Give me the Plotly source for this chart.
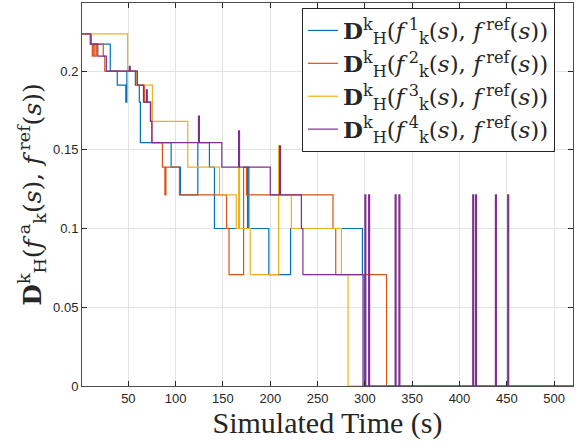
import plotly.graph_objects as go

# ---- data (time in s, Hausdorff distance) ----
time_s1 = [1, 10.8, 30.9, 38.3, 47.3, 48.4, 57.4, 61.6, 62.7, 95.2, 105, 123.4, 135.7, 141, 176, 177.4, 198.5, 221.5, 297.4, 299.3, 520]
dist_s1 = [0.2236, 0.2171, 0.2000, 0.1910, 0.1803, 0.2000, 0.1910, 0.1803, 0.1545, 0.1390, 0.1213, 0.1545, 0.1390, 0.1000, 0.1390, 0.1000, 0.0707, 0.1000, 0.0707, 0.0, 0.0]

time_s2 = [1, 10.8, 11.9, 12.9, 14.5, 16.1, 23.5, 25.1, 59, 66.9, 73.8, 74.9, 86, 88.6, 89.7, 104, 153.8, 156.4, 171.8, 175, 266.3, 269.2, 322.9, 520]
dist_s2 = [0.2236, 0.2171, 0.2095, 0.2171, 0.2095, 0.2171, 0.2095, 0.2000, 0.1910, 0.1803, 0.1680, 0.1545, 0.1390, 0.1213, 0.1390, 0.1213, 0.1000, 0.0707, 0.1390, 0.1213, 0.1000, 0.0707, 0.0, 0.0]

time_s3 = [1, 49.2, 59, 75.4, 112.8, 146.3, 164, 166.5, 167.5, 178.8, 208.8, 209.9, 222.3, 275.2, 282.2, 520]
dist_s3 = [0.2236, 0.2000, 0.1910, 0.1680, 0.1390, 0.1213, 0.1000, 0.1390, 0.1000, 0.0707, 0.1525, 0.1213, 0.1000, 0.0707, 0.0, 0.0]

time_s4 = [1, 9.7, 17.7, 26.7, 51, 52, 59.5, 66, 69, 70, 73.3, 74.9, 124.1, 125.1, 148.8, 166.5, 167.5, 200, 209.9, 210.9, 232.9, 234.5,
           298, 300, 301, 304, 305, 332, 333, 336, 337, 414, 415, 417, 418, 438, 439, 451, 452, 520]
dist_s4 = [0.2236, 0.2171, 0.2095, 0.2000, 0.2030, 0.2000, 0.1910, 0.1803, 0.1880, 0.1803, 0.1680, 0.1545, 0.1714, 0.1545, 0.1390, 0.1620, 0.1390, 0.1213, 0.1525, 0.1213, 0.1000, 0.0707,
           0.0, 0.1213, 0.0, 0.1213, 0.0, 0.1213, 0.0, 0.1213, 0.0, 0.1213, 0.0, 0.1213, 0.0, 0.1213, 0.0, 0.1213, 0.0, 0.0]

F = "<i>f</i>\u2009"
series_labels = [
    "<b>D</b><sup>k</sup><sub>H</sub>(" + F + "<sup>1</sup><sub>k</sub>(<i>s</i>), " + F + "<sup>ref</sup>(<i>s</i>))",
    "<b>D</b><sup>k</sup><sub>H</sub>(" + F + "<sup>2</sup><sub>k</sub>(<i>s</i>), " + F + "<sup>ref</sup>(<i>s</i>))",
    "<b>D</b><sup>k</sup><sub>H</sub>(" + F + "<sup>3</sup><sub>k</sub>(<i>s</i>), " + F + "<sup>ref</sup>(<i>s</i>))",
    "<b>D</b><sup>k</sup><sub>H</sub>(" + F + "<sup>4</sup><sub>k</sub>(<i>s</i>), " + F + "<sup>ref</sup>(<i>s</i>))",
]
series_colors = ["#0072BD", "#D95319", "#EDB120", "#7E2F8E"]

x_ticks = [50, 100, 150, 200, 250, 300, 350, 400, 450, 500]
y_ticks = [0, 0.05, 0.1, 0.15, 0.2]
y_tick_text = ["0", "0.05", "0.1", "0.15", "0.2"]

x_title = "Simulated Time (s)"
y_title = "<b>D</b><sup>k</sup><sub>H</sub>(" + F + "<sup>a</sup><sub>k</sub>(<i>s</i>), " + F + "<sup>ref</sup>(<i>s</i>))"

fig = go.Figure()
for t, d, lab, col in zip([time_s1, time_s2, time_s3, time_s4],
                          [dist_s1, dist_s2, dist_s3, dist_s4],
                          series_labels, series_colors):
    fig.add_trace(go.Scatter(x=t, y=d, mode="lines", name=lab,
                             line=dict(color=col, width=1.2, shape="hv")))

axis_common = dict(
    ticks="inside", ticklen=5, tickwidth=1, tickcolor="#262626",
    showline=True, linecolor="#4d4d4d", linewidth=1, mirror="ticks",
    showgrid=True, gridcolor="#e3e3e3", gridwidth=1, zeroline=False,
    automargin=False,
    tickfont=dict(family="Liberation Sans", size=13, color="#262626"),
)

fig.update_layout(
    width=576, height=445,
    margin=dict(l=82, r=3, t=3, b=59),
    paper_bgcolor="white", plot_bgcolor="white",
    xaxis=dict(range=[1, 520], tickvals=x_ticks, **axis_common,
               title=dict(text=x_title, standoff=4,
                          font=dict(family="Liberation Serif", size=30, color="#262626"))),
    yaxis=dict(range=[0, 0.2432], tickvals=y_ticks, ticktext=y_tick_text, **axis_common,
               title=dict(text=y_title, standoff=4,
                          font=dict(family="DejaVu Serif", size=25, color="#262626"))),
    legend=dict(x=0.448, y=0.987, xanchor="left", yanchor="top",
                bgcolor="white", bordercolor="#262626", borderwidth=1,
                font=dict(family="DejaVu Serif", size=23, color="#262626"),
                tracegroupgap=0, itemwidth=30),
)

fig.write_html("out.html", config={"displayModeBar": False},
               post_script="document.body.style.margin='0';")
